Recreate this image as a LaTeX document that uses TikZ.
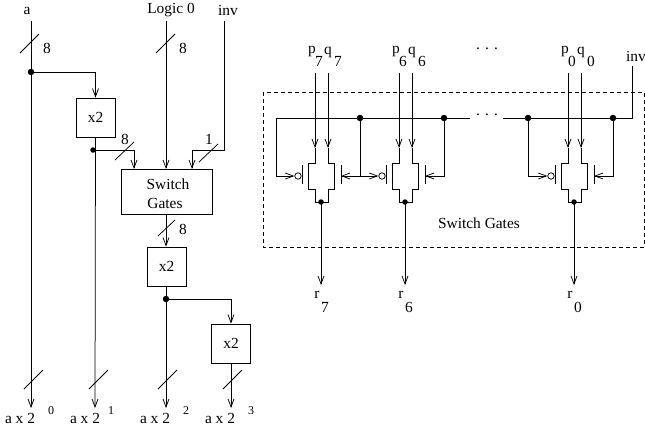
\documentclass[tikz,border=0pt]{standalone}
\usepackage{fontspec}
\setmainfont{Liberation Serif}
\usetikzlibrary{arrows.meta}
\tikzset{
  wire/.style={line width=0.75pt},
  arr/.style={wire,-{Straight Barb[length=8pt,width=6pt,line width=0.75pt]}},
  boxn/.style={draw,line width=0.75pt,inner sep=0pt,align=center,font=\fontsize{15.4}{17}\selectfont},
  xtwo/.style={boxn,minimum width=39pt,minimum height=39pt},
  dot/.style={circle,fill=black,inner sep=0pt,minimum size=6.5pt},
  smalldot/.style={circle,fill=black,inner sep=0pt,minimum size=5.5pt},
  lbl/.style={inner sep=0pt,font=\fontsize{15.4}{17}\selectfont},
  sub/.style={inner sep=0pt,font=\fontsize{15.4}{17}\selectfont},
  sup/.style={inner sep=0pt,font=\fontsize{12}{14}\selectfont},
  slash/.style={wire},
  bubble/.style={circle,draw,line width=0.75pt,inner sep=0pt,minimum size=6.5pt},
  frame/.style={wire,dash pattern=on 4pt off 3pt},
}
\begin{document}
\begin{tikzpicture}[x=1pt,y=-1pt]
\useasboundingbox (0,0) rectangle (645,434);
% ---------- left block
\node[lbl] (la) at (27,10.5) {a};
\node[lbl] (llogic) at (171,10) {Logic 0};
\node[lbl] (linv) at (228,10) {inv};
\coordinate (aT) at (31,21);
\coordinate (lT) at (166,21);
\coordinate (iT) at (224,21);
\node[xtwo] (b1) at (95.5,117.5) {x2};
\node[boxn,minimum width=91pt,minimum height=45pt] (sg) at (166.5,191.5) {};
\node[lbl] (sgA) at (168,184) {Switch};
\node[lbl] (sgB) at (165,203) {Gates};
\node[xtwo] (b2) at (166.5,266.5) {x2};
\node[xtwo] (b3) at (231,343.5) {x2};
\node[dot] (d1) at (31,72) {};
\node[smalldot] (d2) at (93,150) {};
\node[dot] (d3) at (166,299) {};
\coordinate (o0) at (31,408);
\coordinate (o1) at (95,408);
\coordinate (o2) at (166,408);
\coordinate (o3) at (231,408);
\draw[arr] (aT) -- (o0);
\draw[arr] (d1.center) -| (b1.north);
\draw[arr] (b1.south) -- (o1);
\coordinate (s1in) at (134,169);
\coordinate (s2in) at (192,169);
\draw[arr] (d2.center) -| (s1in);
\draw[arr] (lT) -- (166,169);
\draw[arr] (iT) |- (192,150) -- (s2in);
\draw[arr] (sg.south -| lT) -- (b2.north -| lT);
\draw[wire] (b2.south -| lT) -- (d3.center);
\draw[arr] (d3.center) -- (o2);
\draw[arr] (d3.center) -| (b3.north);
\draw[arr] (b3.south) -- (o3);
% bus slashes
\draw[slash] (20,53) -- (39,34);
\draw[slash] (156,53) -- (175,34);
\draw[slash] (115,160) -- (134,142);
\draw[slash] (199,162) -- (218,144);
\draw[slash] (158,236) -- (175,220);
\draw[slash] (24,389) -- (43,370);
\draw[slash] (89,389) -- (108,370);
\draw[slash] (158,389) -- (177,370);
\draw[slash] (223,389) -- (242,370);
\node[lbl] (n1) at (47,48) {8};
\node[lbl] (n2) at (183,48) {8};
\node[lbl] (n3) at (125,139) {8};
\node[lbl] (n4) at (209,139) {1};
\node[lbl] (n5) at (183,229) {8};
\node[lbl] (r0) at (20,418) {a x 2};
\node[lbl] (r1) at (85,418) {a x 2};
\node[lbl] (r2) at (155,418) {a x 2};
\node[lbl] (r3) at (220,418) {a x 2};
\node[sup] (e0) at (51,411) {0};
\node[sup] (e1) at (111,411) {1};
\node[sup] (e2) at (186,411) {2};
\node[sup] (e3) at (251,411) {3};
% ---------- right block
\draw[frame] (263,92) rectangle (644,247);
\node[lbl] (sgt) at (479,223) {Switch Gates};
\node[lbl] (rinv) at (636,56) {inv};
\node[lbl] (tdots) at (487,49) {.\,\,.\,\,.};
\node[lbl] (bdots) at (487,115) {.\,\,.\,\,.};
\coordinate (busL) at (276,118);
\coordinate (gapL) at (470,118);
\coordinate (gapR) at (503,118);
\coordinate (busR) at (632,118);
\coordinate (invT) at (632,66);
\node[dot] (j1) at (360,118) {};
\node[dot] (j2) at (444,118) {};
\node[dot] (j3) at (528,118) {};
\node[dot] (j4) at (613,118) {};
\draw[wire] (busL) -- (gapL);
\draw[wire] (gapR) -- (busR) -- (invT);
% stages: centre, left feed, right feed, digit
\foreach \c/\lf/\rf/\d/\nm in {321/busL/j1/7/a,405/j1/j2/6/b,574/j3/j4/0/c}{
  \begin{scope}[shift={(\c,0)}]
    \coordinate (p\nm) at (-6,73);
    \coordinate (q\nm) at (7,73);
    \coordinate (pe\nm) at (-6,148);
    \coordinate (qe\nm) at (7,148);
    \coordinate (gl\nm) at (-23,176);
    \coordinate (gr\nm) at (20,176);
    \coordinate (out\nm) at (0,285);
    \node[smalldot] (m\nm) at (0,202) {};
    \node[bubble] (bb\nm) at (-23,176) {};
    \draw[arr] (p\nm) -- (pe\nm);
    \draw[arr] (q\nm) -- (qe\nm);
    \draw[wire] (pe\nm) -- (-6,163) -- (-13,163) -- (-13,189) -- (-6,189) -- (-6,202) -- (7,202)
      -- (7,189) -- (13,189) -- (13,163) -- (7,163) -- (qe\nm);
    \draw[wire] (-19,165) -- (-19,184);
    \draw[wire] (20,165) -- (20,184);
    \draw[arr] (m\nm.center) -- (out\nm);
    \draw[arr] (\lf) |- (bb\nm.west);
    \draw[arr] (\rf) |- (gr\nm);
    \node[lbl] (tp\nm) at (-9,52) {p};
    \node[sub] (tpd\nm) at (-2,61) {\d};
    \node[lbl] (tq\nm) at (7,52) {q};
    \node[sub] (tqd\nm) at (17,61) {\d};
    \node[lbl] (tr\nm) at (-4,295) {r};
    \node[sub] (trd\nm) at (4,307) {\d};
  \end{scope}
}
\end{tikzpicture}
\end{document}
